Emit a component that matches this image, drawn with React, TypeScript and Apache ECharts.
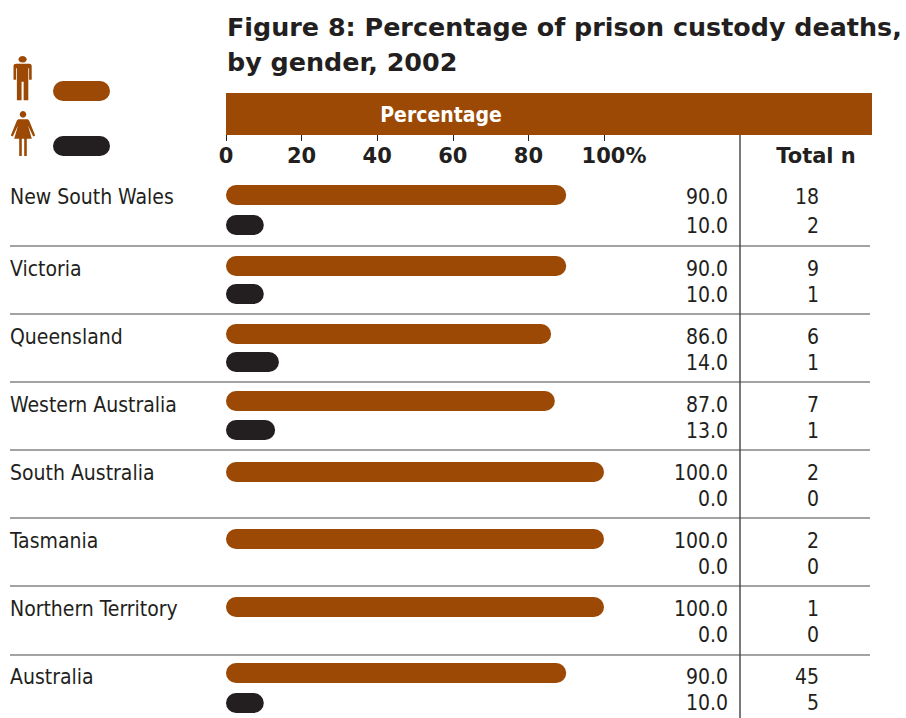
import React, { useEffect, useRef } from "react";
import * as echarts from "echarts";

const states = ["New South Wales", "Victoria", "Queensland", "Western Australia", "South Australia", "Tasmania", "Northern Territory", "Australia"];
const malePct = [90, 90, 86, 87, 100, 100, 100, 90];
const femalePct = [10, 10, 14, 13, 0, 0, 0, 10];
const maleN = [18, 9, 6, 7, 2, 2, 1, 45];
const femaleN = [2, 1, 1, 1, 0, 0, 0, 5];

const BROWN = "#9c4905";
const DARK = "#231f20";
const FONT = "DejaVu Sans Condensed";
const BOLD = "DejaVu Sans";

// [top, height] of each state's bar panel and of its text panel
const panels = [[180, 60], [252, 56], [320, 56], [386.5, 58], [459, 52], [525.5, 54], [593.5, 54], [658, 60]];
const textPanels = [[182, 58], [255.5, 52], [323.5, 52], [391.5, 52], [459.5, 52], [527.5, 52], [595.5, 52], [663.5, 52]];
const rules = [246, 314, 382, 450, 518, 586, 655];

const man = "M7 0a3.2 3.2 0 1 1 -0.01 0z M2 7.5h10a2 2 0 0 1 2 2v13.5h-2v-11h-0.6v31h-3.6v-18h-1.6v18h-3.6v-31h-0.6v11h-2v-13.5a2 2 0 0 1 2-2z";
const woman = "M13 0a3.3 3.3 0 1 1 -0.01 0z M9 8h8c1 0 1.8.6 2.2 1.6l6 14.5-2 1-5.2-11 3.8 13h-5v17h-2.6v-17h-2.4v17h-2.6v-17h-5l3.8-13-5.2 11-2-1 6-14.5c.4-1 1.2-1.6 2.2-1.6z";
echarts.graphic.registerShape("manIcon", echarts.graphic.extendPath(man, {}) as any);
echarts.graphic.registerShape("womanIcon", echarts.graphic.extendPath(woman, {}) as any);

export default function App() {
  const ref = useRef<HTMLDivElement>(null);
  useEffect(() => {
    const chart = echarts.init(ref.current!, null, { renderer: "svg" });
    const grid: any[] = [], xAxis: any[] = [], yAxis: any[] = [], series: any[] = [];
    states.forEach((s, i) => {
      // bars
      const g = grid.length;
      grid.push({ left: 226, width: 378, top: panels[i][0], height: panels[i][1] });
      xAxis.push({ gridIndex: g, type: "value", min: 0, max: 100, show: false });
      yAxis.push({ gridIndex: g, type: "category", inverse: true, show: false, data: ["Male", "Female"] });
      series.push({
        type: "bar", xAxisIndex: xAxis.length - 1, yAxisIndex: yAxis.length - 1, barWidth: 20, barGap: "-100%", silent: true,
        data: [
          { value: malePct[i], itemStyle: { color: BROWN, borderRadius: 10 } },
          { value: femalePct[i], itemStyle: { color: DARK, borderRadius: 10 } },
        ],
      });
      // texts
      const t = grid.length;
      grid.push({ left: 226, width: 378, top: textPanels[i][0], height: textPanels[i][1] });
      xAxis.push({ gridIndex: t, type: "value", min: 0, max: 100, show: false });
      const base = { gridIndex: t, type: "category", inverse: true, axisLine: { show: false }, axisTick: { show: false } };
      const label = { color: DARK, fontFamily: FONT, fontSize: 21, interval: 0 };
      yAxis.push({ ...base, position: "left", data: [s, ""], axisLabel: { ...label, align: "left", margin: 216 } });
      yAxis.push({
        ...base, position: "right", data: [malePct[i].toFixed(1), femalePct[i].toFixed(1)],
        axisLabel: { ...label, align: "right", margin: 124 },
      });
      yAxis.push({
        ...base, position: "right", data: [String(maleN[i]), String(femaleN[i])],
        axisLabel: { ...label, align: "right", margin: 215 },
      });
    });
    const h = grid.length;
    grid.push({ left: 226, width: 378, top: 130, height: 5 });
    xAxis.push({
      gridIndex: h, type: "value", min: 0, max: 100, interval: 20, position: "bottom",
      splitLine: { show: false },
      axisLine: { show: false },
      axisTick: { show: true, length: 6, lineStyle: { color: DARK, width: 1 } },
      axisLabel: {
        color: DARK, fontFamily: BOLD, fontWeight: "bold", fontSize: 21, margin: 10,
        formatter: (v: number) => (v === 100 ? "{p|100%}" : String(v)),
        rich: { p: { color: DARK, fontFamily: BOLD, fontWeight: "bold", fontSize: 21, padding: [0, 0, 0, 20] } },
      },
    });
    yAxis.push({ gridIndex: h, type: "value", show: false });
    series.push({ type: "bar", xAxisIndex: xAxis.length - 1, yAxisIndex: yAxis.length - 1, data: [] });

    chart.setOption({
      animation: false,
      backgroundColor: "#fff",
      title: {
        text: "Figure 8: Percentage of prison custody deaths,\nby gender, 2002",
        left: 227, top: 9, padding: 0,
        textStyle: { color: DARK, fontFamily: BOLD, fontWeight: "bold", fontSize: 25.4, lineHeight: 35 },
      },
      grid, xAxis, yAxis, series,
      graphic: [
        { type: "rect", z: 0, shape: { x: 226, y: 93, width: 646, height: 42 }, style: { fill: BROWN } },
        { type: "text", z: 5, x: 441, y: 115, style: { text: "Percentage", fill: "#fff", font: `bold 21px "${FONT}"`, align: "center", verticalAlign: "middle" } },
        { type: "text", z: 5, x: 816, y: 156, style: { text: "Total n", fill: DARK, font: `bold 21px "${BOLD}"`, align: "center", verticalAlign: "middle" } },
        { type: "line", z: 1, shape: { x1: 740, y1: 135, x2: 740, y2: 718 }, style: { stroke: DARK, lineWidth: 1.2 } },
        ...rules.map((y) => ({ type: "line", z: 1, shape: { x1: 10, y1: y, x2: 870, y2: y }, style: { stroke: "#4a4748", lineWidth: 1.2 } })),
        { type: "rect", z: 2, shape: { x: 53, y: 81, width: 57, height: 20, r: 10 }, style: { fill: BROWN } },
        { type: "rect", z: 2, shape: { x: 53, y: 136, width: 57, height: 20, r: 10 }, style: { fill: DARK } },
        { type: "manIcon", z: 2, x: 13.5, y: 56, scaleX: 1.3, scaleY: 1.03, style: { fill: BROWN } },
        { type: "womanIcon", z: 2, x: 10, y: 111, scaleX: 1, scaleY: 1.02, style: { fill: BROWN } },
      ],
    });
    return () => chart.dispose();
  }, []);
  return <div ref={ref} style={{ position: "absolute", left: 0, top: 0, width: 906, height: 718 }} />;
}
